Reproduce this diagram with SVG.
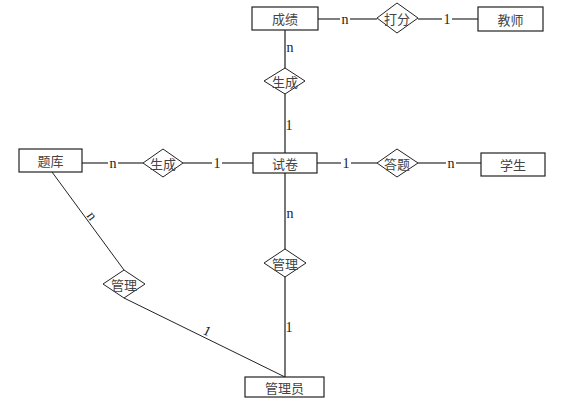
<svg xmlns="http://www.w3.org/2000/svg" width="561" height="407" viewBox="0 0 561 407">
<style>
.ent{fill:#fff;stroke:#222;stroke-width:1.2}
.rel{fill:#fff;stroke:#222;stroke-width:1}
.ln{stroke:#555;stroke-width:1.3;fill:none}
.lnv{stroke:#777;stroke-width:2;fill:none}
.lnd{stroke:#222;stroke-width:1;fill:none}
.t{font-family:"Noto Sans CJK SC","Liberation Serif",serif;font-size:13px;fill:#444;text-anchor:middle;dominant-baseline:central}
.c{font-family:"Liberation Serif",serif;font-size:14px;fill:#222;text-anchor:middle;dominant-baseline:central}
.lb{fill:#fff}
</style>
<rect width="561" height="407" fill="#fff"/>
<g id="connectors">
<line class="ln" x1="318" y1="19" x2="377" y2="19"/>
<line class="ln" x1="418" y1="19" x2="478" y2="19"/>
<line class="lnv" x1="285" y1="30" x2="285" y2="153"/>
<line class="ln" x1="82" y1="163" x2="143" y2="163"/>
<line class="ln" x1="183" y1="163" x2="253" y2="163"/>
<line class="ln" x1="317" y1="163" x2="377" y2="163"/>
<line class="ln" x1="418" y1="163" x2="481" y2="163"/>
<line class="lnv" x1="285" y1="173" x2="285" y2="377"/>
<line class="lnd" x1="52" y1="172" x2="124" y2="270"/>
<line class="lnd" x1="124" y1="298" x2="285" y2="377"/>
<rect class="lb" x="340" y="12" width="10" height="14"/><text class="c" x="345" y="19">n</text>
<rect class="lb" x="442" y="12" width="10" height="14"/><text class="c" x="447" y="19">1</text>
<rect class="lb" x="286" y="40" width="8" height="14"/><text class="c" x="290" y="47">n</text>
<rect class="lb" x="286" y="118" width="8" height="14"/><text class="c" x="289" y="125">1</text>
<rect class="lb" x="108" y="156" width="10" height="14"/><text class="c" x="113" y="163">n</text>
<rect class="lb" x="212" y="156" width="10" height="14"/><text class="c" x="217" y="163">1</text>
<rect class="lb" x="341" y="156" width="10" height="14"/><text class="c" x="346" y="163">1</text>
<rect class="lb" x="446" y="156" width="10" height="14"/><text class="c" x="451" y="163">n</text>
<rect class="lb" x="286" y="206" width="8" height="14"/><text class="c" x="290" y="213">n</text>
<rect class="lb" x="286" y="320" width="8" height="14"/><text class="c" x="289" y="327">1</text>
<text class="c" x="92" y="216" transform="rotate(54 92 216)" font-size="11">n</text>
<text class="c" x="207" y="331" transform="rotate(26 207 331)" font-size="11">1</text>
</g>
<g id="n-chengji"><rect class="ent" x="252" y="7" width="66" height="23"/><text class="t" x="285" y="18.5">成绩</text></g>
<g id="n-dafen"><polygon class="rel" points="377,18 397,3 418,18 397,33"/><text class="t" x="397" y="18">打分</text></g>
<g id="n-jiaoshi"><rect class="ent" x="478" y="7" width="65" height="24"/><text class="t" x="510.5" y="19">教师</text></g>
<g id="n-shengcheng1"><polygon class="rel" points="264,81 285,68 305,81 285,94"/><text class="t" x="285" y="81">生成</text></g>
<g id="n-tiku"><rect class="ent" x="19" y="149" width="63" height="23"/><text class="t" x="50.5" y="160.5">题库</text></g>
<g id="n-shengcheng2"><polygon class="rel" points="143,163 163,149 183,163 163,177"/><text class="t" x="163" y="163">生成</text></g>
<g id="n-shijuan"><rect class="ent" x="253" y="153" width="64" height="20"/><text class="t" x="285" y="163">试卷</text></g>
<g id="n-dati"><polygon class="rel" points="377,163 397,149 418,163 397,177"/><text class="t" x="397" y="163">答题</text></g>
<g id="n-xuesheng"><rect class="ent" x="481" y="153" width="64" height="23"/><text class="t" x="513" y="164.5">学生</text></g>
<g id="n-guanli1"><polygon class="rel" points="264,263 285,249 306,263 285,277"/><text class="t" x="285" y="263">管理</text></g>
<g id="n-guanli2"><polygon class="rel" points="103,284 124,270 145,284 124,298"/><text class="t" x="124" y="284">管理</text></g>
<g id="n-guanliyuan"><rect class="ent" x="245" y="377" width="79" height="20"/><text class="t" x="284.5" y="387">管理员</text></g>
</svg>
